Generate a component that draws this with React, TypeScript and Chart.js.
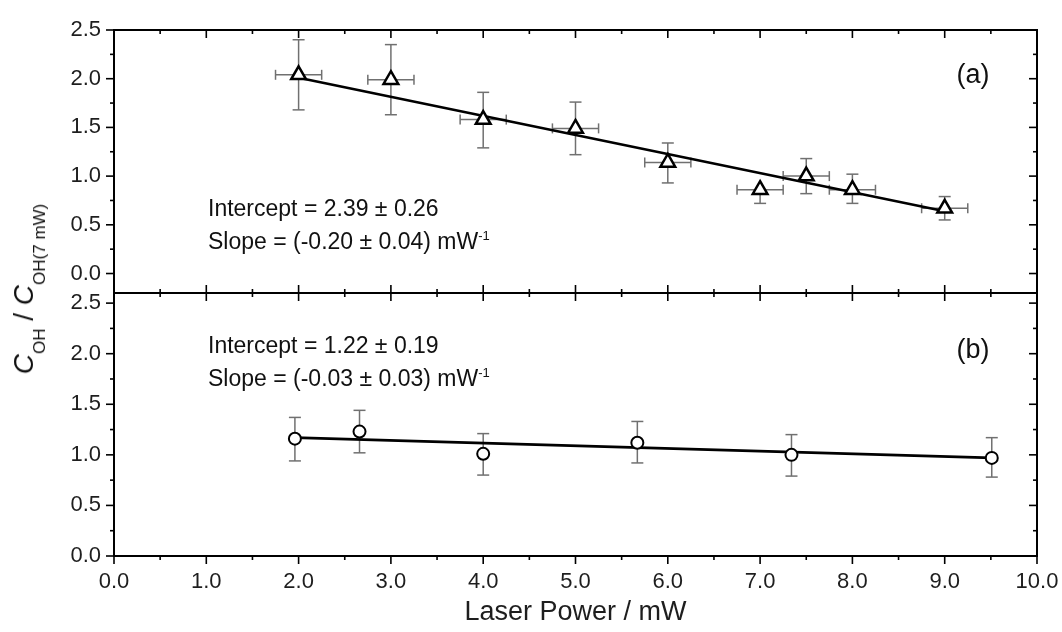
import React, { useEffect, useRef } from 'react';
import { Chart, registerables } from 'chart.js';

Chart.register(...registerables);

const FONT = '"Liberation Sans", Arial, Helvetica, sans-serif';

// Shared axis values
const xTickValues = [0, 1, 2, 3, 4, 5, 6, 7, 8, 9, 10];
const xMinorValues = [0.5, 1.5, 2.5, 3.5, 4.5, 5.5, 6.5, 7.5, 8.5, 9.5];
const yTickValues = [0, 0.5, 1.0, 1.5, 2.0, 2.5];
const yMinorValues = [0.25, 0.75, 1.25, 1.75, 2.25];

// Panel (a): triangles with x and y error bars
const laserPowerA = [2.0, 3.0, 4.0, 5.0, 6.0, 7.0, 7.5, 8.0, 9.0];
const ratioA = [2.04, 1.99, 1.58, 1.49, 1.14, 0.86, 1.0, 0.86, 0.67];
const ratioAHigh = [2.4, 2.35, 1.86, 1.76, 1.34, 0.86, 1.18, 1.02, 0.79];
const ratioALow = [1.68, 1.63, 1.29, 1.22, 0.93, 0.72, 0.82, 0.72, 0.55];
const powerErrA = [0.25, 0.25, 0.25, 0.25, 0.25, 0.25, 0.25, 0.25, 0.25];
const fitAX = [2.0, 9.0];
const fitAY = [2.01, 0.64];

// Panel (b): circles with y error bars
const laserPowerB = [1.96, 2.66, 4.0, 5.67, 7.34, 9.51];
const ratioB = [1.16, 1.23, 1.01, 1.12, 1.0, 0.97];
const ratioBHigh = [1.37, 1.44, 1.21, 1.33, 1.2, 1.17];
const ratioBLow = [0.94, 1.02, 0.8, 0.92, 0.79, 0.78];
const fitBX = [1.96, 9.51];
const fitBY = [1.17, 0.97];

const annotA = ['Intercept = 2.39 ± 0.26', 'Slope = (-0.20 ± 0.04) mW'];
const annotB = ['Intercept = 1.22 ± 0.19', 'Slope = (-0.03 ± 0.03) mW'];

type PanelCfg = {
  name: string;
  xs: number[];
  ys: number[];
  hi: number[];
  lo: number[];
  xerr: number[] | null;
  isTop: boolean;
  annot: string[];
  textX: number;
  textY1: number;
  textY2: number;
  label: string;
  labelX: number;
  labelY: number;
};

function panelPlugin(cfg: PanelCfg) {
  return {
    id: 'panel-' + cfg.name,
    beforeDatasetsDraw(chart: any) {
      const { ctx, scales } = chart;
      const xs = scales.x;
      const ys = scales.y;
      ctx.save();
      ctx.strokeStyle = '#707070';
      ctx.lineWidth = 1.5;
      const seg = (x1: number, y1: number, x2: number, y2: number) => {
        ctx.beginPath();
        ctx.moveTo(x1, y1);
        ctx.lineTo(x2, y2);
        ctx.stroke();
      };
      cfg.xs.forEach((xv, i) => {
        const px = xs.getPixelForValue(xv);
        const py = ys.getPixelForValue(cfg.ys[i]);
        const pHi = ys.getPixelForValue(cfg.hi[i]);
        const pLo = ys.getPixelForValue(cfg.lo[i]);
        seg(px, pLo, px, pHi);
        if (cfg.hi[i] - cfg.ys[i] > 0.02) seg(px - 6, pHi, px + 6, pHi);
        if (cfg.ys[i] - cfg.lo[i] > 0.02) seg(px - 6, pLo, px + 6, pLo);
        if (cfg.xerr) {
          const pl = xs.getPixelForValue(xv - cfg.xerr[i]);
          const pr = xs.getPixelForValue(xv + cfg.xerr[i]);
          seg(pl, py, pr, py);
          seg(pl, py - 5, pl, py + 5);
          seg(pr, py - 5, pr, py + 5);
        }
      });
      ctx.restore();
    },
    afterDatasetsDraw(chart: any) {
      const { ctx, chartArea: a, scales } = chart;
      const xs = scales.x;
      const ys = scales.y;
      ctx.save();
      ctx.strokeStyle = '#000';
      ctx.lineWidth = 1.6;
      const seg = (x1: number, y1: number, x2: number, y2: number) => {
        ctx.beginPath();
        ctx.moveTo(x1, y1);
        ctx.lineTo(x2, y2);
        ctx.stroke();
      };
      const yTick = (v: number, len: number) => {
        const py = ys.getPixelForValue(v);
        seg(a.left - len, py, a.left, py);
        seg(a.right, py, a.right - len, py);
      };
      yTickValues.forEach((v) => yTick(v, 8));
      yMinorValues.forEach((v) => yTick(v, 4));
      const xTick = (v: number, len: number) => {
        const px = xs.getPixelForValue(v);
        if (cfg.isTop) {
          seg(px, a.top, px, a.top + len);
          seg(px, a.bottom - len, px, a.bottom + len);
        } else {
          seg(px, a.bottom, px, a.bottom + len);
        }
      };
      xTickValues.forEach((v) => xTick(v, 8));
      xMinorValues.forEach((v) => xTick(v, 4));
      ctx.lineWidth = 2;
      ctx.strokeRect(a.left, a.top, a.right - a.left, a.bottom - a.top);
      ctx.restore();
    },
    afterDraw(chart: any) {
      const { ctx } = chart;
      ctx.save();
      ctx.fillStyle = '#111';
      ctx.textAlign = 'left';
      ctx.textBaseline = 'alphabetic';
      ctx.font = `23px ${FONT}`;
      ctx.fillText(cfg.annot[0], cfg.textX, cfg.textY1);
      ctx.fillText(cfg.annot[1], cfg.textX, cfg.textY2);
      const w = ctx.measureText(cfg.annot[1]).width;
      ctx.font = `13px ${FONT}`;
      ctx.fillText('-1', cfg.textX + w, cfg.textY2 - 9);
      ctx.font = `27px ${FONT}`;
      ctx.textAlign = 'center';
      ctx.fillText(cfg.label, cfg.labelX, cfg.labelY);
      ctx.restore();
    },
  };
}

const tickFont = { family: FONT, size: 22 };

const zeroPadding = (s: any) => {
  s.paddingLeft = 0;
  s.paddingRight = 0;
  s.paddingTop = 0;
  s.paddingBottom = 0;
};

function makeConfig(cfg: PanelCfg, fitX: number[], fitY: number[], pointStyle: string): any {
  const isTop = cfg.isTop;
  return {
    type: 'scatter',
    data: {
      datasets: [
        {
          data: cfg.xs.map((x, i) => ({ x, y: cfg.ys[i] })),
          pointStyle,
          pointRadius: isTop ? 8.5 : 6,
          borderColor: '#000',
          backgroundColor: '#fff',
          borderWidth: isTop ? 2.5 : 2,
          showLine: false,
        },
        {
          data: fitX.map((x, i) => ({ x, y: fitY[i] })),
          showLine: true,
          borderColor: '#000',
          borderWidth: 2.6,
          pointRadius: 0,
          fill: false,
          tension: 0,
        },
      ],
    },
    options: {
      animation: false,
      responsive: false,
      events: [],
      layout: {
        autoPadding: false,
        padding: isTop
          ? { left: 0, right: 25, top: 30, bottom: 12 }
          : { left: 0, right: 25, top: 8, bottom: 0 },
      },
      plugins: {
        legend: { display: false },
        tooltip: { enabled: false },
      },
      scales: {
        x: isTop
          ? {
              type: 'linear',
              min: 0,
              max: 10,
              display: false,
              afterFit: (s: any) => {
                zeroPadding(s);
              },
            }
          : {
              type: 'linear',
              min: 0,
              max: 10,
              position: 'bottom',
              afterBuildTicks: (s: any) => {
                s.ticks = xTickValues.map((v) => ({ value: v }));
              },
              afterFit: (s: any) => {
                s.height = 76;
                zeroPadding(s);
              },
              grid: { display: false, drawTicks: false },
              border: { display: false },
              ticks: {
                padding: 13,
                autoSkip: false,
                maxRotation: 0,
                color: '#1e1e1e',
                font: tickFont,
                callback: (v: any) => Number(v).toFixed(1),
              },
              title: {
                display: true,
                text: 'Laser Power / mW',
                color: '#1e1e1e',
                font: { family: FONT, size: 27 },
                padding: { top: 0, bottom: 3 },
              },
            },
        y: {
          type: 'linear',
          min: isTop ? -0.2 : 0,
          max: isTop ? 2.5 : 2.6,
          afterBuildTicks: (s: any) => {
            s.ticks = yTickValues.map((v) => ({ value: v }));
          },
          afterFit: (s: any) => {
            s.width = 114;
            zeroPadding(s);
          },
          grid: { display: false, drawTicks: false },
          border: { display: false },
          ticks: {
            padding: 13,
            color: '#1e1e1e',
            font: tickFont,
            callback: (v: any) => Number(v).toFixed(1),
          },
        },
      },
    },
    plugins: [panelPlugin(cfg)],
  };
}

const cfgA: PanelCfg = {
  name: 'a',
  xs: laserPowerA,
  ys: ratioA,
  hi: ratioAHigh,
  lo: ratioALow,
  xerr: powerErrA,
  isTop: true,
  annot: annotA,
  textX: 208,
  textY1: 216,
  textY2: 248.5,
  label: '(a)',
  labelX: 973,
  labelY: 83,
};

const cfgB: PanelCfg = {
  name: 'b',
  xs: laserPowerB,
  ys: ratioB,
  hi: ratioBHigh,
  lo: ratioBLow,
  xerr: null,
  isTop: false,
  annot: annotB,
  textX: 208,
  textY1: 68,
  textY2: 101,
  label: '(b)',
  labelX: 973,
  labelY: 73,
};

const subStyle: React.CSSProperties = {
  fontSize: 17,
  lineHeight: '17px',
  position: 'relative',
  top: 12,
};

export default function App() {
  const topRef = useRef<HTMLCanvasElement>(null);
  const botRef = useRef<HTMLCanvasElement>(null);

  useEffect(() => {
    const c1 = new Chart(topRef.current as HTMLCanvasElement, makeConfig(cfgA, fitAX, fitAY, 'triangle'));
    const c2 = new Chart(botRef.current as HTMLCanvasElement, makeConfig(cfgB, fitBX, fitBY, 'circle'));
    return () => {
      c1.destroy();
      c2.destroy();
    };
  }, []);

  return (
    <div
      style={{
        position: 'absolute',
        left: 0,
        top: 0,
        width: 1062,
        height: 632,
        background: '#fff',
        overflow: 'hidden',
      }}
    >
      <canvas
        ref={topRef}
        width={1062}
        height={305}
        style={{ position: 'absolute', left: 0, top: 0, width: 1062, height: 305 }}
      />
      <canvas
        ref={botRef}
        width={1062}
        height={347}
        style={{ position: 'absolute', left: 0, top: 285, width: 1062, height: 347 }}
      />
      <div
        style={{
          position: 'absolute',
          left: 24,
          top: 289,
          transform: 'translate(-50%, -50%) rotate(-90deg)',
          whiteSpace: 'nowrap',
          fontFamily: FONT,
          fontSize: 28,
          lineHeight: '28px',
          color: '#111',
        }}
      >
        <i>C</i>
        <span style={subStyle}>OH</span>
        {' / '}
        <i>C</i>
        <span style={subStyle}>OH(7 mW)</span>
      </div>
    </div>
  );
}
